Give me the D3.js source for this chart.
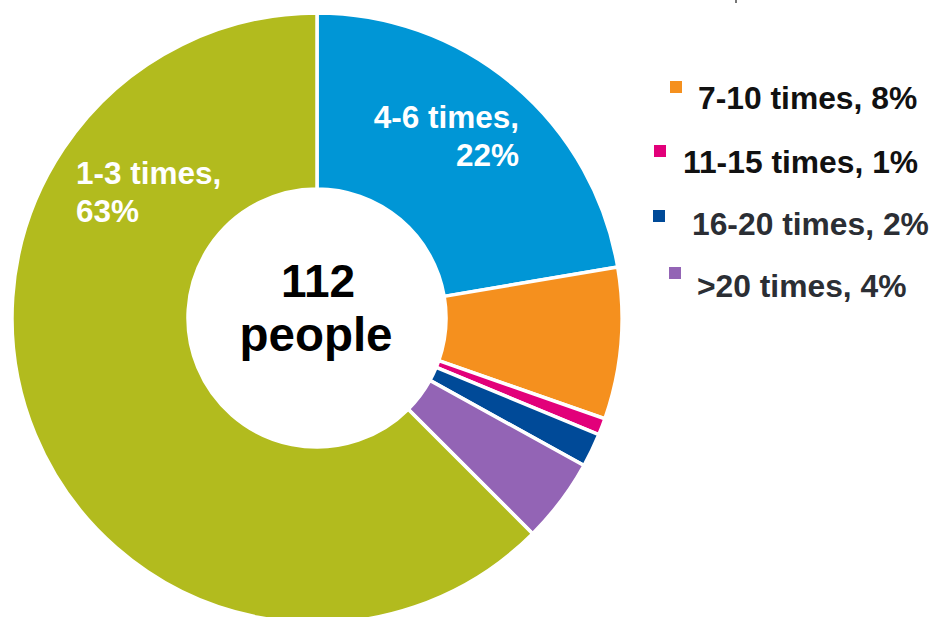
<!DOCTYPE html>
<html><head><meta charset="utf-8">
<script src="https://cdn.jsdelivr.net/npm/d3@7"></script>
<style>html,body{margin:0;padding:0;background:#fff;}svg{display:block;font-family:"Liberation Sans",Arial,sans-serif;}</style>
</head><body>
<svg id="chart" width="938" height="617"></svg>
<script>
const categories = ["4-6 times", "7-10 times", "11-15 times", "16-20 times", ">20 times", "1-3 times"];
const counts = [25, 9, 1, 2, 5, 70];
const percentLabels = ["22%", "8%", "1%", "2%", "4%", "63%"];
const colors = ["#0096d6", "#f5901e", "#e2007a", "#004a98", "#9364b5", "#b2bb1e"];
const totalLabel = ["112", "people"];
const legendCategories = ["7-10 times", "11-15 times", "16-20 times", ">20 times"];

const svg = d3.select("#chart");
const cx = 317, cy = 318, rOuter = 305, rInner = 129;
const data = categories.map((c, i) => ({cat: c, value: counts[i], pct: percentLabels[i], color: colors[i]}));
const pie = d3.pie().sort(null).value(d => d.value);
const arc = d3.arc().innerRadius(rInner).outerRadius(rOuter);
const g = svg.append("g").attr("transform", `translate(${cx},${cy})`);
g.selectAll("path").data(pie(data)).join("path")
  .attr("d", arc).attr("fill", d => d.data.color)
  .attr("stroke", "#fff").attr("stroke-width", 3.5).attr("stroke-linejoin", "miter");

// center text
const ct = svg.append("text").attr("text-anchor", "middle").attr("font-weight", "bold")
  .attr("fill", "#000");
ct.append("tspan").attr("x", 318).attr("y", 297).attr("font-size", 46).text(totalLabel[0]);
ct.append("tspan").attr("x", 316).attr("y", 351).attr("font-size", 47.5).text(totalLabel[1]);

// slice labels
const lblBlue = svg.append("text").attr("text-anchor", "end").attr("font-weight", "bold")
  .attr("font-size", 31.5).attr("fill", "#fff");
lblBlue.append("tspan").attr("x", 519).attr("y", 128).text(data[0].cat + ",");
lblBlue.append("tspan").attr("x", 519).attr("y", 166).text(data[0].pct);
const lblOlive = svg.append("text").attr("text-anchor", "start").attr("font-weight", "bold")
  .attr("font-size", 31.5).attr("fill", "#fff");
lblOlive.append("tspan").attr("x", 76).attr("y", 184).text(data[5].cat + ",");
lblOlive.append("tspan").attr("x", 76).attr("y", 222).text(data[5].pct);

// legend
const legendPos = [
  {mx: 670, my: 81, tx: 698, ty: 109, col: "#111"},
  {mx: 654, my: 145, tx: 683, ty: 173, col: "#111"},
  {mx: 653, my: 210, tx: 692, ty: 235, col: "#2b2e34"},
  {mx: 669, my: 267, tx: 697, ty: 297, col: "#2b2e34"}
];
legendCategories.forEach((c, i) => {
  const d = data.find(e => e.cat === c);
  const p = legendPos[i];
  svg.append("rect").attr("x", p.mx).attr("y", p.my).attr("width", 12).attr("height", 12).attr("fill", d.color);
  svg.append("text").attr("x", p.tx).attr("y", p.ty).attr("font-weight", "bold").attr("font-size", 31.8)
    .attr("fill", p.col).text(`${d.cat}, ${d.pct}`);
});

// tiny cut-off mark at top edge (remnant of text above the frame)
svg.append("rect").attr("x", 735).attr("y", 0).attr("width", 2).attr("height", 3).attr("fill", "#777");
</script>
</body></html>
